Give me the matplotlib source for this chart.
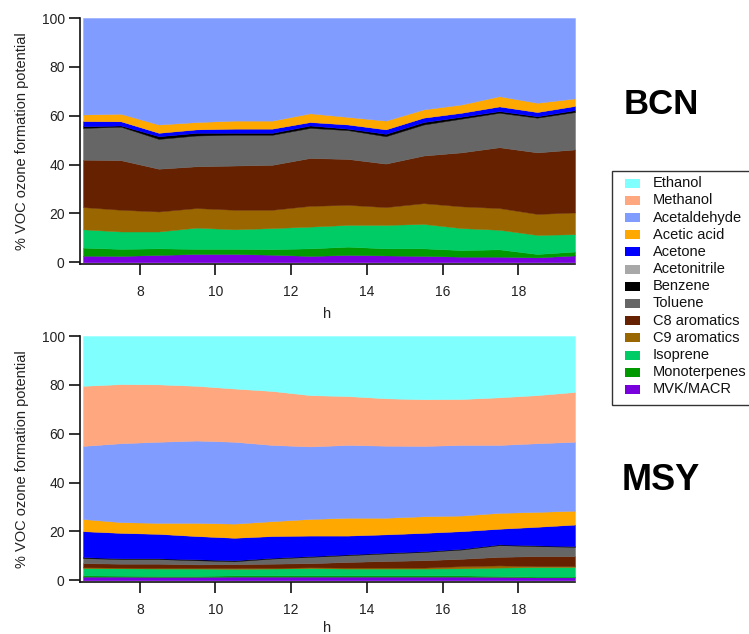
import matplotlib
matplotlib.use("Agg")
import matplotlib.pyplot as plt
from matplotlib.patches import Rectangle

plt.rcParams['font.family'] = ['Liberation Sans', 'DejaVu Sans']

W, H = 749, 634

hours = [6.5, 7.5, 8.5, 9.5, 10.5, 11.5, 12.5, 13.5, 14.5, 15.5, 16.5, 17.5, 18.5, 19.5]

# legend order (top of stack first)
species = ["Ethanol", "Methanol", "Acetaldehyde", "Acetic acid", "Acetone",
           "Acetonitrile", "Benzene", "Toluene", "C8 aromatics", "C9 aromatics",
           "Isoprene", "Monoterpenes", "MVK/MACR"]
colors = ["#80ffff", "#ffa880", "#809cff", "#ffa800", "#0000ff",
          "#a8a8a8", "#000000", "#666666", "#662200", "#996600",
          "#00cc66", "#009900", "#7700dd"]

# BCN, % of VOC ozone formation potential
bcn_ethanol = [0, 0, 0, 0, 0, 0, 0, 0, 0, 0, 0, 0, 0, 0]
bcn_methanol = [0, 0, 0, 0, 0, 0, 0, 0, 0, 0, 0, 0, 0, 0]
bcn_acetaldehyde = [39.5, 39.2, 43.6, 42.6, 42.0, 42.0, 39.0, 40.5, 42.0, 37.4, 35.4, 32.0, 34.7, 32.9]
bcn_acetic = [2.7, 3.1, 3.4, 3.0, 3.3, 3.3, 3.6, 3.1, 3.6, 3.4, 3.4, 4.2, 3.8, 3.1]
bcn_acetone = [2.1, 1.7, 1.4, 1.4, 1.7, 1.7, 1.4, 1.7, 1.8, 1.8, 1.6, 1.9, 1.7, 1.7]
bcn_acetonitrile = [0, 0, 0, 0, 0, 0, 0, 0, 0, 0, 0, 0, 0, 0]
bcn_benzene = [0.7, 0.5, 1.1, 1.1, 0.8, 0.8, 1.0, 0.6, 1.0, 1.0, 0.8, 0.7, 0.6, 0.8]
bcn_toluene = [13.0, 13.7, 12.2, 12.6, 12.6, 12.3, 12.3, 11.8, 11.2, 12.7, 13.8, 14.1, 14.2, 15.3]
bcn_c8 = [19.4, 20.3, 17.5, 17.1, 18.1, 18.4, 19.6, 18.8, 17.8, 19.5, 22.1, 24.9, 25.2, 25.8]
bcn_c9 = [9.1, 8.9, 8.2, 8.0, 8.0, 7.5, 8.5, 8.2, 7.3, 8.5, 8.9, 8.9, 8.6, 8.9]
bcn_isoprene = [7.5, 7.1, 6.9, 8.7, 8.0, 8.6, 8.9, 8.9, 9.6, 10.0, 9.0, 8.0, 7.8, 7.1]
bcn_monoterpenes = [3.3, 2.9, 2.7, 2.1, 2.1, 2.3, 3.1, 3.4, 2.9, 3.1, 2.7, 3.0, 1.4, 1.6]
bcn_mvk = [2.7, 2.6, 3.0, 3.4, 3.4, 3.1, 2.6, 3.0, 2.8, 2.6, 2.3, 2.3, 2.0, 2.8]

# MSY
msy_ethanol = [20.4, 19.7, 19.8, 20.4, 21.5, 22.5, 24.2, 24.6, 25.5, 25.9, 25.8, 25.1, 24.2, 22.9]
msy_methanol = [24.6, 24.2, 23.5, 22.4, 21.8, 22.1, 21.0, 20.0, 19.4, 19.1, 18.8, 19.5, 19.7, 20.4]
msy_acetaldehyde = [29.9, 32.3, 33.2, 33.7, 33.5, 31.2, 29.7, 29.8, 29.5, 28.8, 28.9, 27.8, 28.1, 28.2]
msy_acetic = [5.0, 4.4, 4.5, 5.4, 5.8, 6.1, 6.8, 7.3, 6.8, 6.8, 6.4, 6.5, 6.1, 5.7]
msy_acetone = [10.6, 10.4, 10.0, 9.5, 9.2, 8.9, 8.4, 7.7, 7.5, 7.5, 7.2, 6.4, 7.6, 8.8]
msy_acetonitrile = [0, 0, 0, 0, 0, 0, 0, 0, 0, 0, 0, 0, 0, 0]
msy_benzene = [0.4, 0.3, 0.3, 0.4, 0.4, 0.3, 0.3, 0.3, 0.3, 0.3, 0.3, 0.3, 0.3, 0.3]
msy_toluene = [2.1, 1.9, 1.9, 1.7, 1.2, 2.1, 2.6, 2.8, 3.1, 3.4, 3.8, 4.8, 4.1, 3.8]
msy_c8 = [1.7, 1.6, 1.7, 1.4, 1.6, 1.7, 1.7, 2.3, 2.7, 3.0, 3.0, 3.5, 4.1, 4.1]
msy_c9 = [0.3, 0.3, 0.3, 0.3, 0.3, 0.3, 0.3, 0.4, 0.4, 0.4, 0.9, 0.9, 0.4, 0.4]
msy_isoprene = [3.0, 3.0, 3.0, 3.0, 2.7, 2.8, 3.0, 2.8, 2.8, 2.8, 2.9, 3.4, 3.9, 3.9]
msy_monoterpenes = [0.5, 0.4, 0.4, 0.4, 0.5, 0.5, 0.5, 0.5, 0.5, 0.5, 0.5, 0.4, 0.3, 0.3]
msy_mvk = [1.5, 1.5, 1.4, 1.4, 1.5, 1.5, 1.5, 1.5, 1.5, 1.5, 1.5, 1.4, 1.2, 1.2]

bcn = [bcn_ethanol, bcn_methanol, bcn_acetaldehyde, bcn_acetic, bcn_acetone,
       bcn_acetonitrile, bcn_benzene, bcn_toluene, bcn_c8, bcn_c9,
       bcn_isoprene, bcn_monoterpenes, bcn_mvk]
msy = [msy_ethanol, msy_methanol, msy_acetaldehyde, msy_acetic, msy_acetone,
       msy_acetonitrile, msy_benzene, msy_toluene, msy_c8, msy_c9,
       msy_isoprene, msy_monoterpenes, msy_mvk]


def fig_box(left, top, right, bottom):
    # pixel box -> figure fraction rect
    return [left / W, 1 - bottom / H, (right - left) / W, (bottom - top) / H]


def stacked(ax, series, xlabelpad):
    base = [0.0] * len(hours)
    for vals, c in zip(series[::-1], colors[::-1]):
        top = [b + v for b, v in zip(base, vals)]
        if max(vals) > 0:
            ax.fill_between(hours, base, top, facecolor=c, edgecolor=c, linewidth=0.3)
        base = top
    ax.set_xlim(6.42, 19.5)
    ax.set_ylim(-0.7, 100)
    ax.set_xticks([8, 10, 12, 14, 16, 18])
    ax.set_yticks([0, 20, 40, 60, 80, 100])
    for s in ["top", "right"]:
        ax.spines[s].set_visible(False)
    for s in ["left", "bottom"]:
        ax.spines[s].set_linewidth(1.2)
        ax.spines[s].set_color("#111111")
    ax.tick_params(axis="both", direction="out", length=8, width=1.2,
                   labelsize=10, labelcolor="#222222", color="#111111")
    ax.tick_params(axis="x", pad=7)
    ax.tick_params(axis="y", pad=3)
    ax.set_xlabel("h", fontsize=10.5, color="#222222", labelpad=xlabelpad)
    ax.set_ylabel("% VOC ozone formation potential", fontsize=10.5,
                  color="#222222", labelpad=9)


fig = plt.figure(figsize=(W / 100, H / 100), dpi=100)
ax1 = fig.add_axes(fig_box(80, 18, 575, 264))
ax2 = fig.add_axes(fig_box(80, 336, 575, 582))
stacked(ax1, bcn, 6)
stacked(ax2, msy, 3)

fig.text(661 / W, 1 - 105 / H, "BCN", fontsize=25, fontweight="bold",
         ha="center", va="center")
fig.text(661 / W, 1 - 480 / H, "MSY", fontsize=26, fontweight="bold",
         ha="center", va="center")

# legend box, running off the right edge like the original
fig.add_artist(Rectangle((612 / W, 1 - 405 / H), 150 / W, 234 / H,
                         transform=fig.transFigure, facecolor="white",
                         edgecolor="#333333", linewidth=1.0))
for i, (name, c) in enumerate(zip(species, colors)):
    yc = 183.3 + i * 17.17
    fig.add_artist(Rectangle((625 / W, 1 - (yc + 4.5) / H), 15 / W, 9 / H,
                             transform=fig.transFigure, facecolor=c,
                             edgecolor="none"))
    fig.text(653 / W, 1 - yc / H, name, fontsize=10.5, color="#111111",
             ha="left", va="center")

fig.savefig("out.png", dpi=100)
